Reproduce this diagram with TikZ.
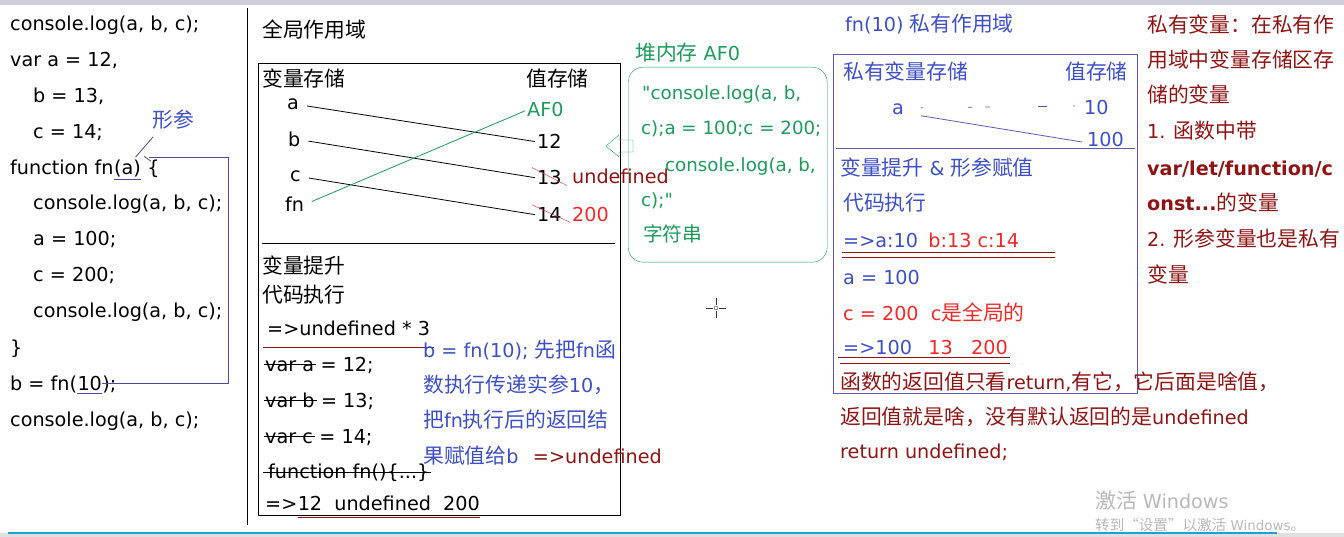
\documentclass[tikz,border=0pt]{standalone}
\usepackage{fontspec}
\setmainfont{DejaVu Sans}[Scale=0.96, Ligatures=TeXOff]
\newfontfamily\cjkfont{Noto Sans CJK SC}[Scale=1.04]
\usetikzlibrary{positioning,calc}

% switch to the CJK family for Chinese characters
\XeTeXinterchartokenstate=1
\newXeTeXintercharclass\cjkchars
\newcount\cjkcode
\def\setcjkrange#1#2{\cjkcode=#1\relax
  \loop\XeTeXcharclass\cjkcode=\cjkchars\relax
  \ifnum\cjkcode<#2\advance\cjkcode by 1\repeat}
\setcjkrange{"4E00}{"9FFF}
\setcjkrange{"3000}{"303F}
\setcjkrange{"FF00}{"FFEF}
\XeTeXcharclass"201C=\cjkchars\relax
\XeTeXcharclass"201D=\cjkchars\relax
\XeTeXinterchartoks 0 \cjkchars={\begingroup\cjkfont}
\XeTeXinterchartoks 4095 \cjkchars={\begingroup\cjkfont}
\XeTeXinterchartoks \cjkchars 0={\endgroup}
\XeTeXinterchartoks \cjkchars 4095={\endgroup}

\definecolor{codeblue}{HTML}{3D4FC4}
\definecolor{boxblue}{HTML}{5A5AB4}
\definecolor{bracketblue}{HTML}{4B4BA0}
\definecolor{heapgreen}{HTML}{1E9A5A}
\definecolor{wine}{HTML}{8E1414}
\definecolor{hotred}{HTML}{F02828}
\definecolor{barblue}{HTML}{1BA1DC}
\definecolor{topgray}{HTML}{CDCEDA}

\begin{document}
\begin{tikzpicture}[
  x=1pt, y=-1pt,
  font=\fontsize{20}{24}\selectfont,
  txt/.style={anchor=base west, inner sep=0pt},
  link/.style={line width=0.8pt, shorten <=8pt, shorten >=2pt},
  strike/.style={line width=0.9pt, draw=black},
  uline/.style={line width=0.9pt, draw=wine},
  bracket/.style={line width=0.8pt, draw=bracketblue}
]
\useasboundingbox (0,0) rectangle (1344,537);
\fill[topgray] (0,0) rectangle (1344,5);

% code column
\foreach \x/\y/\line in {10/31/{console.log(a, b, c);}, 10/67/{var a = 12,},
  33/103/{b = 13,}, 33/139/{c = 14;}, 33/210/{console.log(a, b, c);},
  33/246/{a = 100;}, 33/282/{c = 200;}, 33/318/{console.log(a, b, c);},
  10/354/{\}}, 10/426/{console.log(a, b, c);}}
  \node[txt] at (\x,\y) {\line};

\node[txt] (fnhead) at (10,175) {function fn};
\node[txt, base right=0pt of fnhead] (parA) {(a)};
\node[txt, base right=0pt of parA] (fnbrace) {\ \{};
\node[txt] (callhead) at (10,390) {b = fn(};
\node[txt, base right=0pt of callhead] (argTen) {10};
\node[txt, base right=0pt of argTen] (callend) {);};

\node[txt, text=codeblue] (xingcan) at (152,128) {形参};
\draw[bracket] ($(xingcan.south west)+(1,7)$) -- ($(parA.north)+(8,-3)$);
\draw[bracket] ($(parA.base west)+(0,4)$) -- ($(parA.base east)+(0,4)$);
\draw[bracket] ($(argTen.base west)+(0,3)$) -- ($(argTen.base east)+(0,3)$);
\draw[bracket] ($(parA.north east)+(3,-4)$) -- ++(7,5);
\draw[bracket] ($(parA.north east)+(8,-3)$) -- ++(79,0) |- (argTen.east);

\draw[line width=1pt] (247,8) -- (247,525);

% global scope
\node[txt] (globaltitle) at (262,38) {全局作用域};
\node[draw, line width=1pt, anchor=north west, inner sep=0pt,
  minimum width=362pt, minimum height=452pt] (globalbox) at (258,63) {};
\draw[line width=0.9pt] (262,243) -- (615,243);
\node[txt] (varhead) at (262,87) {变量存储};
\node[txt] (valhead) at (526,87) {值存储};

\foreach \n/\x/\y/\t in {va/287/110/a, vb/288/147/b, vc/290/182/c, vfn/285/212/fn}
  \node[txt] (\n) at (\x,\y) {\t};
\node[txt, text=heapgreen] (vAF) at (527,117) {AF0};
\node[txt] (v12) at (537,149) {12};
\node[txt] (v13) at (537,185) {13};
\node[txt] (v14) at (537,222) {14};
\node[txt, text=wine] (vundef) at (572,184) {undefined};
\node[txt, text=hotred] (v200) at (572,222) {200};

\draw[link] (va.east) -- (v12.west);
\draw[link] (vb.east) -- (v13.west);
\draw[link] (vc.east) -- (v14.west);
\draw[link, draw=heapgreen] (vfn.east) -- (vAF.west);
\draw[hotred, thin] ($(v13.north west)+(-5,-3)$) -- ($(v13.south east)+(5,0)$);
\draw[hotred, thin] ($(v14.north west)+(-5,-3)$) -- ($(v14.south east)+(8,0)$);

\node[txt] (hoisttitle) at (262,274) {变量提升};
\node[txt] (runtitle) at (262,303) {代码执行};
\node[txt] (hoist) at (267,335) {=>undefined * 3};
\draw[uline] ($(hoist.base west)+(-4,12)$) -- ($(hoist.base east)+(4,12)$);

\node[txt] (sa) at (265,371) {var a};
\node[txt, base right=0pt of sa] (sarest) {\ = 12;};
\node[txt] (sb) at (265,407) {var b};
\node[txt, base right=0pt of sb] (sbrest) {\ = 13;};
\node[txt] (sc) at (265,443) {var c};
\node[txt, base right=0pt of sc] (screst) {\ = 14;};
\node[txt] (sfn) at (268,478) {function fn()\{...\}};
\foreach \s in {sa,sb,sc}
  \draw[strike] ($(\s.base west)+(-1,-7)$) -- ($(\s.base east)+(2,-7)$);
\draw[strike] ($(sfn.base west)+(-5,-6)$) -- ($(sfn.base east)+(1,-6)$);

\node[txt] (gres) at (265,510) {=>};
\node[txt, base right=0pt of gres] (gresv) {12\ \ undefined\ \ 200};
\draw[uline] ($(gresv.base west)+(0,7)$) -- ($(gresv.base east)+(0,7)$);

\node[txt, text=codeblue] (call1) at (423,357) {b = fn(10); 先把fn函};
\node[txt, text=codeblue] (call2) at (423,392) {数执行传递实参10，};
\node[txt, text=codeblue] (call3) at (423,427) {把fn执行后的返回结};
\node[txt, text=codeblue] (assignb) at (423,463) {果赋值给b};
\node[txt, text=wine, base right=14pt of assignb] (assignres) {=>undefined};

% heap
\node[txt, text=heapgreen] (heaptitle) at (635,61) {堆内存 AF0};
\node[draw=heapgreen, rounded corners=15pt, anchor=north west, inner sep=0pt,
  minimum width=199pt, minimum height=195pt] (heapbox) at (628,67) {};
\foreach \x/\y/\line in {642/100/{"console.log(a, b,}, 641/135/{c);a = 100;c = 200;},
  665/172/{console.log(a, b,}, 641/207/{c);"}, 643/242/{字符串}}
  \node[txt, text=heapgreen, font=\fontsize{19}{23}\selectfont] at (\x,\y) {\line};
\coordinate (heaptip) at (606,146);
\draw[heapgreen] (heaptip) -- ++(13,-11) -- ++(0,5) -- ++(14,0) -- ++(0,12)
  -- ++(-14,0) -- ++(0,5) -- cycle;

% cursor
\draw[black!80] (716,298) -- (716,305) (716,311) -- (716,318)
  (706,308) -- (713,308) (719,308) -- (726,308);
\draw[black!80] (716,308) circle (2);

% private scope
\node[txt, text=codeblue] (privtitle) at (845,32) {fn(10) 私有作用域};
\node[draw=boxblue, line width=0.9pt, anchor=north west, inner sep=0pt,
  minimum width=304pt, minimum height=339pt] (privbox) at (833,54) {};
\draw[boxblue, line width=0.9pt] (836,148) -- (1135,148);
\node[txt, text=codeblue] (pvarhead) at (843,80) {私有变量存储};
\node[txt, text=codeblue] (pvalhead) at (1065,80) {值存储};
\node[txt, text=codeblue] (pa) at (892,115) {a};
\node[txt, text=codeblue] (p10) at (1084,115) {10};
\node[txt, text=codeblue] (p100) at (1087,147) {100};
\draw[boxblue, line width=0.8pt, dash pattern=on 2pt off 45pt on 4pt off 13pt on 5pt off 48pt on 9pt off 26pt on 2pt off 30pt]
  ($(pa.east)+(17,-2)$) -- ($(p10.west)+(-6,-2)$);
\draw[boxblue, line width=0.8pt] ($(pa.east)+(17,6)$) -- ($(p100.west)+(-5,2)$);

\node[txt, text=codeblue] (phoist) at (840,176) {变量提升 \& 形参赋值};
\node[txt, text=codeblue] (prun) at (843,211) {代码执行};
\node[txt, text=codeblue] (pr1) at (843,248) {=>a:10};
\node[txt, text=hotred, base right=10pt of pr1] (pr1b) {b:13 c:14};
\draw[uline] ($(pr1.base west)+(-1,4)$) -- ++(213,0);
\draw[uline] ($(pr1.base west)+(-1,9)$) -- ++(213,0);
\node[txt, text=codeblue] (pseta) at (843,285) {a = 100};
\node[txt, text=hotred] (psetc) at (843,321) {c = 200\ \ c是全局的};
\node[txt, text=codeblue] (pr2) at (843,355) {=>100};
\node[txt, text=hotred, base right=16pt of pr2] (pr2b) {13\ \ \ 200};
\draw[uline] ($(pr2.base west)+(-5,2)$) -- ++(172,0);
\draw[uline] ($(pr2.base west)+(-3,8)$) -- ++(170,0);

\node[txt, text=wine] (ret1) at (840,389) {函数的返回值只看return,有它，它后面是啥值，};
\node[txt, text=wine] (ret2) at (840,424) {返回值就是啥，没有默认返回的是undefined};
\node[txt, text=wine] (ret3) at (840,458) {return undefined;};

% notes on the right
\foreach \y/\line in {33/{私有变量：在私有作}, 68/{用域中变量存储区存}, 103/{储的变量},
  139/{1. 函数中带}, 247/{2. 形参变量也是私有}, 283/{变量}}
  \node[txt, text=wine] at (1147,\y) {\line};
\node[txt, text=wine] (kw1) at (1147,176) {\bfseries var/let/function/c};
\node[txt, text=wine] (kw2) at (1147,211) {{\bfseries onst...}的变量};

% screen leftovers
\node[txt, text=black!28] (wm1) at (1095,508) {激活 Windows};
\node[txt, text=black!28, font=\fontsize{14}{16}\selectfont] (wm2) at (1095,530) {转到“设置”以激活 Windows。};
\fill[black!12] (0,533) rectangle (1344,537);
\draw[barblue, line width=2pt] (8,533) -- (1277,533);
\end{tikzpicture}
\end{document}
